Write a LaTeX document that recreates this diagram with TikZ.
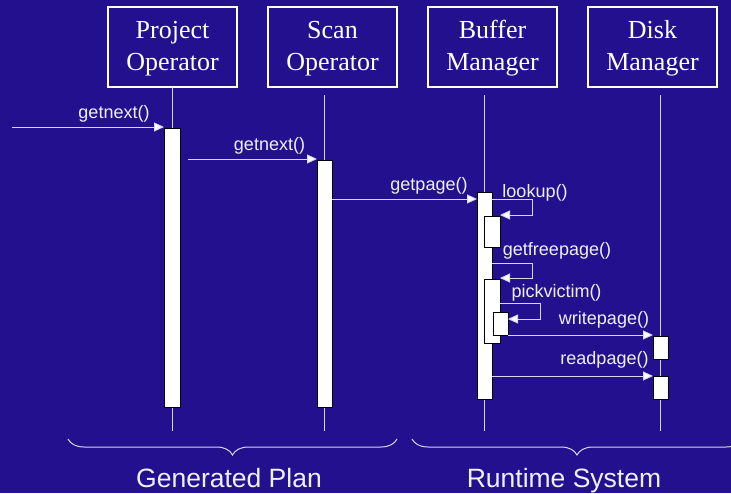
\documentclass[tikz,border=0pt]{standalone}
\usepackage{fontspec}
\setmainfont{Liberation Serif}
\setsansfont{Liberation Sans}
\usetikzlibrary{arrows.meta,decorations.pathreplacing,calc}
\definecolor{bg}{RGB}{34,16,142}
\definecolor{ink}{RGB}{240,240,250}
\definecolor{wire}{RGB}{214,214,240}
% two-line participant title with fixed line metrics
\newcommand{\twoline}[2]{\rule{0pt}{20pt}#1\\#2\rule[-6pt]{0pt}{6pt}}
\begin{document}
\begin{tikzpicture}[x=1pt,y=-1pt,
  actor/.style={draw=white, line width=1.2pt, outer sep=0pt, inner sep=0pt,
    minimum width=129pt, minimum height=80pt, align=center, text=white,
    anchor=north west, font=\fontsize{26}{32}\selectfont},
  bar/.style={draw=black, fill=white, line width=0.9pt, outer sep=0pt,
    inner sep=0pt, anchor=north west},
  life/.style={draw=wire, line width=0.8pt},
  msg/.style={draw=wire, line width=0.9pt,
    -{Triangle[length=10pt,width=9pt,fill=white]}},
  lbl/.style={text=ink, inner sep=0pt, anchor=base,
    font=\sffamily\fontsize{18}{20}\selectfont},
  grp/.style={text=ink, inner sep=0pt, anchor=base,
    font=\sffamily\fontsize{26.5}{30}\selectfont},
  grpbrace/.style={draw=wire, line width=1pt, decorate,
    decoration={brace, amplitude=16pt, mirror}},
]
% canvas
\fill[bg] (0,0) rectangle (731,493);
\useasboundingbox (0,0) rectangle (731,493);
\clip (0,0) rectangle (731,493);

% participants
\node[actor] (po)   at (108,7) {\twoline{Project}{Operator}};
\node[actor] (so)   at (268,7) {\twoline{Scan}{Operator}};
\node[actor] (bmgr) at (428,7) {\twoline{Buffer}{Manager}};
\node[actor] (dm)   at (588,7) {\twoline{Disk}{Manager}};

% lifelines
\coordinate (poT) at (172,87);  \coordinate (poB) at (172,431);
\coordinate (soT) at (324,95);  \coordinate (soB) at (324,431);
\coordinate (bmT) at (484,95);  \coordinate (bmB) at (484,431);
\coordinate (dmT) at (660,95);  \coordinate (dmB) at (660,431);
\draw[life] (poT) -- (poB);
\draw[life] (soT) -- (soB);
\draw[life] (bmT) -- (bmB);
\draw[life] (dmT) -- (dmB);

% activation bars
\node[bar, minimum width=16pt, minimum height=279pt] (pa) at (164,128) {};
\node[bar, minimum width=15pt, minimum height=247pt] (sa) at (317,160) {};
\node[bar, minimum width=15pt, minimum height=207pt] (ba) at (477,192) {};
\node[bar, minimum width=16pt, minimum height=31pt]  (bl) at (484,216) {};
\node[bar, minimum width=16pt, minimum height=64pt]  (bf) at (484,279) {};
\node[bar, minimum width=15pt, minimum height=23pt]  (bp) at (493,312) {};
\node[bar, minimum width=15pt, minimum height=23pt]  (dw) at (653,336) {};
\node[bar, minimum width=15pt, minimum height=23pt]  (dr) at (653,376) {};

% message levels
\coordinate (caller) at (12,127);
\coordinate (m2) at (188,159);
\coordinate (y3) at (0,199);
\coordinate (y4) at (0,199);  \coordinate (y4b) at (0,215);
\coordinate (y5) at (0,263);  \coordinate (y5b) at (0,278);
\coordinate (y6) at (0,303);  \coordinate (y6b) at (0,319);
\coordinate (y7) at (0,335);
\coordinate (y8) at (0,376);

% messages
\draw[msg] (caller) -- (caller -| pa.west);
\draw[msg] (m2) -- (m2 -| sa.west);
\draw[msg] (sa.east |- y3) -- (ba.west |- y3);
\draw[msg] (ba.east |- y4) -- ++(40,0) |- (bl.east |- y4b);
\draw[msg] (ba.east |- y5) -- ++(40,0) |- (bf.east |- y5b);
\draw[msg] (bf.east |- y6) -- ++(40,0) |- (bp.east |- y6b);
\draw[msg] (bp.east |- y7) -- (dw.west |- y7);
\draw[msg] (ba.east |- y8) -- (dr.west |- y8);

% message labels
\node[lbl] (t1) at (114,118) {getnext()};
\node[lbl] (t2) at (269.5,150) {getnext()};
\node[lbl] (t3) at (429,190) {getpage()};
\node[lbl] (t4) at (535,197) {lookup()};
\node[lbl] (t5) at (557,255) {getfreepage()};
\node[lbl] (t6) at (556.5,297) {pickvictim()};
\node[lbl] (t7) at (604,324) {writepage()};
\node[lbl] (t8) at (604.5,364) {readpage()};

% groupings
\draw[grpbrace] (68,439) -- (397,439);
\draw[grpbrace] (412,439) -- (742,439);
\node[grp] (g1) at (229,487) {Generated Plan};
\node[grp] (g2) at (564,487) {Runtime System};
\end{tikzpicture}
\end{document}
